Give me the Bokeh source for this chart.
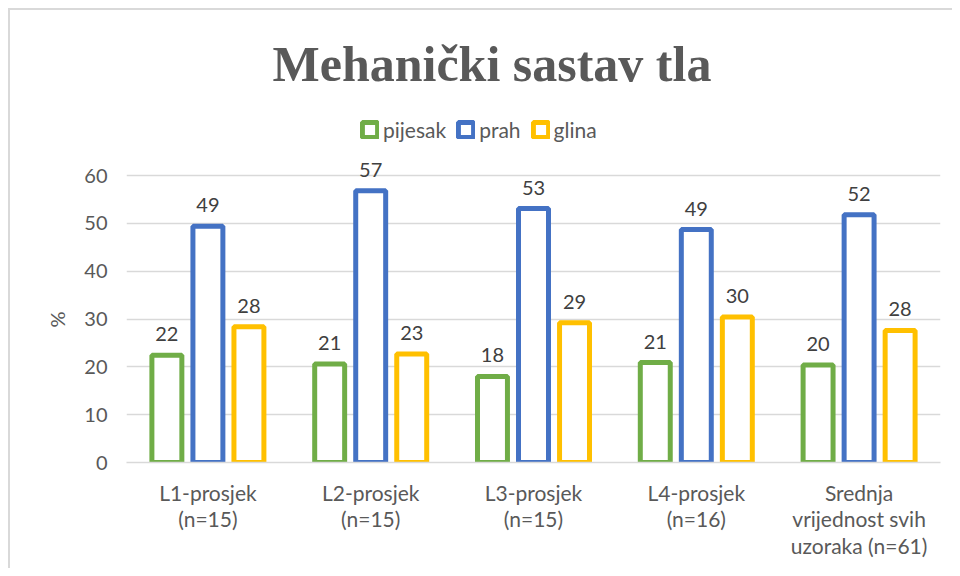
from bokeh.plotting import figure
from bokeh.models import (FactorRange, Range1d, FixedTicker, ColumnDataSource,
                          LabelSet, Legend, LegendItem, Title)
from bokeh.core.properties import value
from bokeh.transform import dodge
from bokeh.embed import file_html
from bokeh.resources import INLINE

categories = ["L1-prosjek\n(n=15)", "L2-prosjek\n(n=15)", "L3-prosjek\n(n=15)",
              "L4-prosjek\n(n=16)", "Srednja\nvrijednost svih\nuzoraka (n=61)"]
pijesak = [22.4, 20.6, 18.0, 20.9, 20.4]
prah = [49.4, 56.8, 53.1, 48.7, 51.8]
glina = [28.4, 22.7, 29.2, 30.4, 27.6]
series_names = ["pijesak", "prah", "glina"]
y_ticks = [0, 10, 20, 30, 40, 50, 60]

colors = ["#70AD47", "#4472C4", "#FFC000"]
offsets = [-0.252, 0.0, 0.252]
txt = "#595959"

# frame extends above the 60 gridline to host the legend
frame_top, grid_top, frame_bottom = 98, 175, 462
y_end = 60 * (frame_bottom - frame_top) / (frame_bottom - grid_top)

src = ColumnDataSource(dict(
    cat=categories,
    pijesak=pijesak, prah=prah, glina=glina,
    pijesak_l=[str(int(round(v))) for v in pijesak],
    prah_l=[str(int(round(v))) for v in prah],
    glina_l=[str(int(round(v))) for v in glina],
))

p = figure(width=952, height=568, x_range=FactorRange(factors=categories, range_padding=0),
           y_range=Range1d(0, y_end), output_backend="svg", toolbar_location=None,
           min_border_left=126, min_border_right=12, min_border_bottom=568 - frame_bottom,
           min_border_top=frame_top)
p.border_fill_alpha = 0
p.background_fill_color = "white"
p.styles = {"box-shadow": "inset 8px 8px 0 0 white, inset 10px 10px 0 0 #D9D9D9",
            "background-color": "white"}

p.title.text = "Mehanički sastav tla"
p.title.text_font = "Liberation Serif"
p.title.text_font_style = "bold"
p.title.text_font_size = "50px"
p.title.text_color = txt
p.title.align = "left"
p.title.offset = 146
p.title.standoff = 14

pct = Title(text="%", align="left", offset=135, standoff=25, text_font="Lato",
            text_font_style="normal", text_font_size="20px", text_color=txt)
p.add_layout(pct, "left")

p.outline_line_color = None
p.xgrid.grid_line_color = None
p.ygrid.grid_line_color = "#D9D9D9"
p.ygrid.grid_line_width = 1.5
p.yaxis.ticker = FixedTicker(ticks=y_ticks)
p.yaxis.axis_line_color = None
p.yaxis.major_tick_line_color = None
p.yaxis.minor_tick_line_color = None
p.yaxis.major_label_text_font = "Lato"
p.yaxis.major_label_text_font_size = "20px"
p.yaxis.major_label_text_color = txt
p.yaxis.major_label_standoff = 13

p.xaxis.axis_line_color = "#D9D9D9"
p.xaxis.axis_line_width = 1.5
p.xaxis.major_tick_line_color = None
p.xaxis.minor_tick_line_color = None
p.xaxis.major_label_text_font = "Lato"
p.xaxis.major_label_text_font_size = "21px"
p.xaxis.major_label_text_line_height = 1.06
p.xaxis.major_label_text_color = txt
p.xaxis.major_label_standoff = 11

items = []
for name, col, off in zip(series_names, colors, offsets):
    r = p.vbar(x=dodge("cat", off, range=p.x_range), top=name, width=0.184, bottom=0,
               source=src, fill_color="white", line_color=col, line_width=5)
    items.append(LegendItem(label=name, renderers=[r]))
    lbl = LabelSet(x=dodge("cat", off, range=p.x_range), y=name, text=name + "_l", source=src,
                   text_align="center", text_baseline="bottom", y_offset=14,
                   text_font=value("Lato"), text_font_size="20px", text_color="#404040")
    p.add_layout(lbl)

legend = Legend(items=items, orientation="horizontal", location=(234, frame_bottom - 142),
                glyph_width=19, glyph_height=19, label_standoff=4, spacing=10,
                label_text_font="Lato", label_text_font_size="21px", label_text_color=txt,
                border_line_color=None, background_fill_alpha=0, margin=0, padding=4)
p.add_layout(legend)

open("out.html", "w").write(file_html(p, INLINE))
